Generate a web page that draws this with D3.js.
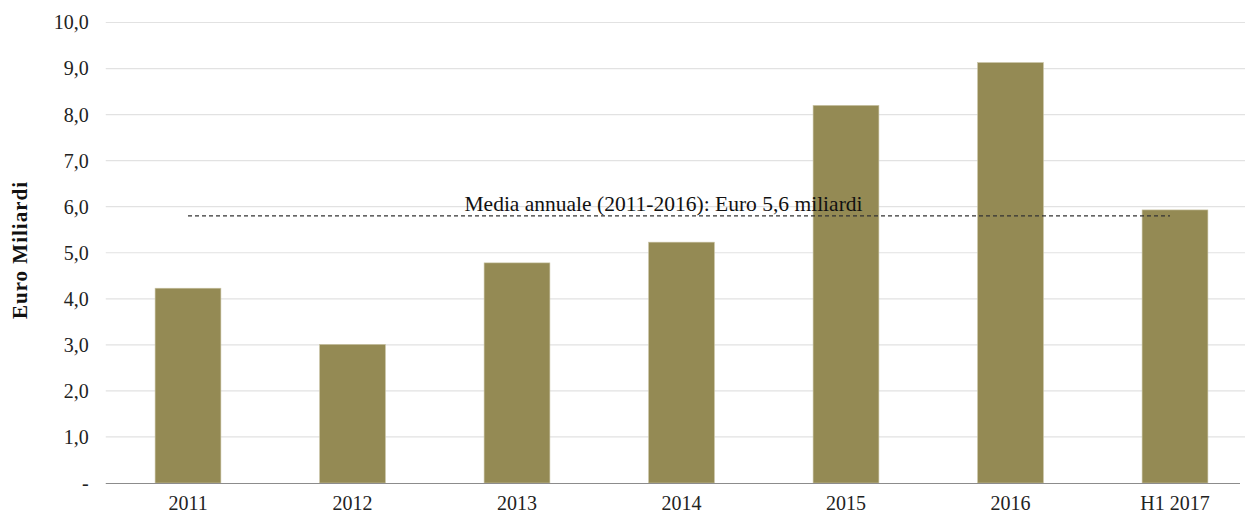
<!DOCTYPE html>
<html><head><meta charset="utf-8">
<script src="https://cdn.jsdelivr.net/npm/d3@7"></script>
<style>body{margin:0;background:#fff}svg{display:block}</style>
</head><body><svg id="c" width="1245" height="515"></svg>
<script>
const categories = ["2011","2012","2013","2014","2015","2016","H1 2017"];
const values = [4.23, 3.01, 4.78, 5.23, 8.2, 9.13, 5.93];
const yTicks = [0,1,2,3,4,5,6,7,8,9,10];
const averageLineValue = 5.8;
const averageLabel = "Media annuale (2011-2016): Euro 5,6 miliardi";
const yTitle = "Euro Miliardi";

(function () {
const svg = d3.select("#c");
const pLeft = 105.75, pRight = 1257.25, pTop = 22.5, pBottom = 483;
const x = d3.scaleBand().domain(categories).range([pLeft, pRight]).paddingInner(0.6).paddingOuter(0.3);
const y = d3.scaleLinear().domain([0, 10]).range([pBottom, pTop]);
const font = "'Liberation Serif','Times New Roman',serif";

// gridlines
svg.append("g").selectAll("line").data(yTicks.filter(d => d > 0)).join("line")
  .attr("x1", pLeft).attr("x2", 1245).attr("y1", d => y(d)).attr("y2", d => y(d))
  .attr("stroke", "#e2e2e2").attr("stroke-width", 1.2);

// y axis labels
const yAxis = d3.axisLeft(y).tickValues(yTicks).tickSize(0).tickPadding(17)
  .tickFormat(d => d === 0 ? "-" : d3.format(".1f")(d).replace(".", ","));
const gy = svg.append("g").attr("transform", `translate(${pLeft},0)`).call(yAxis);
gy.select(".domain").remove();
gy.selectAll("text").attr("font-family", font).attr("font-size", 20).attr("fill", "#222");

// bars
svg.append("g").selectAll("rect").data(values).join("rect")
  .attr("x", (d, i) => x(categories[i])).attr("width", x.bandwidth())
  .attr("y", d => y(d)).attr("height", d => y(0) - y(d))
  .attr("fill", "#948a54").attr("stroke", "#c9c3a4").attr("stroke-width", 0.6);

// x axis
const xAxis = d3.axisBottom(x).tickSize(0).tickPadding(13);
const gx = svg.append("g").attr("transform", `translate(0,${pBottom})`).call(xAxis);
gx.select(".domain").attr("d", `M${pLeft},0.5H1240`).attr("stroke", "#8c8c8c").attr("stroke-width", 1);
gx.selectAll("text").attr("font-family", font).attr("font-size", 20).attr("fill", "#222");

// average line
const xa = x(categories[0]) + x.bandwidth() / 2;
const xb = x(categories[categories.length - 1]) + x.bandwidth() / 2 - 5;
svg.append("line").attr("x1", xa).attr("x2", xb)
  .attr("y1", y(averageLineValue)).attr("y2", y(averageLineValue))
  .attr("stroke", "#333").attr("stroke-width", 1.2).attr("stroke-dasharray", "4,3");
svg.append("text").attr("x", 663.5).attr("y", y(averageLineValue) - 4.5)
  .attr("text-anchor", "middle").attr("font-family", font).attr("font-size", 21.5)
  .attr("fill", "#111").text(averageLabel);

// y title
svg.append("text").attr("transform", `translate(27,250) rotate(-90)`)
  .attr("text-anchor", "middle").attr("font-family", font).attr("font-weight", "bold")
  .attr("font-size", 21).attr("letter-spacing", 1).attr("fill", "#111").text(yTitle);
})();
</script></body></html>
